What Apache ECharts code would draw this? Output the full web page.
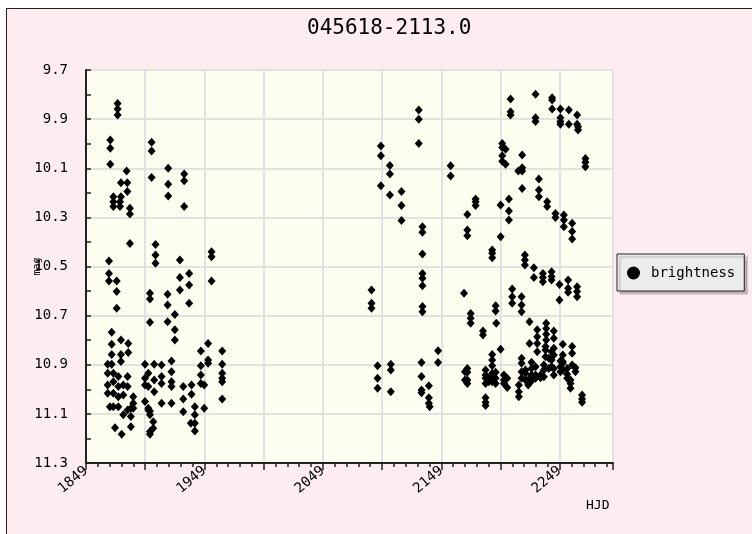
<!DOCTYPE html>
<html>
<head>
<meta charset="utf-8">
<script src="https://cdn.jsdelivr.net/npm/echarts@6/dist/echarts.min.js"></script>
<style>
html,body{margin:0;padding:0;background:#ffffff;}
#bg{position:absolute;left:6px;top:8px;width:760px;height:540px;background:#fdedf1;border-left:1px solid #222;border-top:1px solid #222;}
#chart{position:absolute;left:0;top:0;width:752px;height:534px;}
</style>
</head>
<body>
<div id="bg"></div>
<div id="chart"></div>
<script>
var titleText = '045618-2113.0';
var seriesName = 'brightness';
var xName = 'HJD';
var yName = 'mag';
var xMin = 1849, xMax = 2294, xStep = 50, xLabelStep = 100;
var yMin = 9.7, yMax = 11.3, yStep = 0.2;

var hjd = [
 1875.7,1875.7,1875.7,1869.5,1869.5,1869.5,1883.3,1878.5,1883.9,1883.9,1872.1,1878.5,1872.1,1872.1,1877.7,1877.7,
 1886.1,1886.1,1886.1,1868.4,1868.4,1868.4,1874.9,1874.9,1874.9,1870.7,1870.7,1870.7,1870.7,1878.5,1878.5,1878.5,
 1884.7,1884.7,1867.3,1867.3,1867.3,1867.3,1872.1,1872.1,1872.1,1872.1,1876.3,1876.3,1876.3,1876.3,1880.5,1880.5,
 1880.5,1884.1,1884.1,1884.1,1888.9,1888.9,1888.9,1886.9,1886.9,1886.9,1873.5,1879.1,1869.2,
 1904.4,1904.4,1904.4,1918.4,1918.4,1918.4,1931.9,1931.9,1931.9,1907.7,1907.7,1907.7,1903.0,1903.0,1903.0,
 1917.9,1917.9,1917.9,1924.0,1924.0,1924.0,1928.3,1928.3,1928.3,1936.1,1936.1,1936.1,1955.0,1955.0,1955.0,
 1952.1,1952.1,1952.1,1946.0,1946.0,1946.0,1946.0,1948.8,1948.8,1964.0,1964.0,1964.0,1964.0,1964.0,1964.0,
 1898.8,1898.8,1898.8,1898.8,1906.6,1906.6,1906.6,1912.8,1912.8,1912.8,1912.8,1901.6,1901.6,1901.6,1901.6,
 1903.0,1903.0,1903.0,1903.0,1905.8,1905.8,1921.2,1921.2,1921.2,1921.2,1921.2,1931.1,1931.1,1931.1,1938.1,1938.1,
 1940.9,1940.9,1940.9,1940.9,1937.5,
 2130.0,2130.0,2130.0,2098.0,2098.0,2098.0,2105.6,2105.6,2105.6,2115.4,2115.4,2115.4,
 2133.1,2133.1,2133.1,2133.1,2133.1,2133.1,2133.1,2133.1,2090.1,2090.1,2090.1,2095.2,2095.2,2095.2,
 2106.4,2106.4,2106.4,2132.3,2132.3,2132.3,2132.3,2138.5,2138.5,2138.5,2146.3,2146.3,2139.2,
 2207.5,2207.5,2207.5,2228.6,2228.6,2228.6,2242.6,2242.6,2242.6,2249.6,2249.6,2249.6,2249.6,2256.7,2256.7,
 2263.7,2263.7,2264.5,2264.5,2270.7,2270.7,2270.7,2156.9,2156.9,2200.5,2200.5,2200.5,2200.5,2203.3,2203.3,
 2217.3,2217.3,2217.3,2217.3,2214.0,2231.4,2231.4,2231.4,2238.4,2238.4,2245.4,2245.4,2252.5,2252.5,2252.5,
 2259.5,2259.5,2259.5,2178.0,2178.0,2178.0,2171.0,2171.0,2171.0,2206.1,2206.1,2206.1,2199.1,2199.1,
 2192.0,2192.0,2192.0,2219.6,2219.6,2219.6,2227.2,2227.2,2234.8,2234.8,2234.8,2242.1,2242.1,2242.1,
 2248.8,2248.8,2256.1,2256.1,2256.1,2263.7,2263.7,2263.7,2168.2,2173.8,2173.8,2173.8,2194.9,2194.9,2195.4,
 2208.9,2208.9,2208.9,2216.8,2216.8,2216.8,2184.2,2184.2,2199.1,2223.5,2223.5,2237.6,2237.6,2237.6,2237.6,
 2230.0,2230.0,2230.0,2230.0,2244.0,2244.0,2244.0,2244.0,2251.6,2251.6,2251.6,2259.5,2259.5,2259.5,
 2237.0,2237.0,2237.0,2242.1,2242.1,2242.1,2171.0,2171.0,2171.0,2171.0,2169.0,2169.0,
 2192.0,2192.0,2192.0,2192.0,2192.0,2192.0,2186.4,2186.4,2186.4,2186.4,2189.2,2189.2,2194.9,2194.9,2194.9,
 2201.9,2201.9,2201.9,2204.7,2204.7,2186.4,2186.4,2186.4,2216.8,2216.8,2216.8,2216.8,2220.1,2220.1,2220.1,
 2225.2,2225.2,2225.2,2225.2,2214.5,2214.5,2214.5,2222.4,2222.4,2228.6,2228.6,2228.6,2232.8,2232.8,
 2235.6,2235.6,2235.6,2239.8,2239.8,2244.0,2244.0,2249.6,2249.6,2249.6,2251.6,2251.6,2255.3,2255.3,2255.3,
 2258.1,2258.1,2258.1,2262.3,2262.3,2267.9,2267.9,2267.9
];
var mag = [
 9.836,9.859,9.883,9.985,10.019,10.084,10.111,10.159,10.159,10.195,10.216,10.216,10.236,10.256,10.236,10.256,
 10.263,10.286,10.406,10.478,10.528,10.559,10.559,10.602,10.670,10.768,10.817,10.858,10.898,10.799,10.858,10.887,
 10.813,10.850,10.898,10.935,10.982,11.016,10.935,10.969,11.016,11.071,10.948,10.989,11.030,11.071,10.982,11.023,
 11.104,10.948,10.989,11.084,11.030,11.057,11.077,11.077,11.111,11.152,11.156,11.183,11.071,
 9.994,10.030,10.138,10.100,10.165,10.213,10.123,10.151,10.256,10.410,10.453,10.487,10.609,10.632,10.727,
 10.613,10.657,10.725,10.695,10.758,10.799,10.474,10.545,10.596,10.528,10.575,10.650,10.440,10.460,10.559,
 10.813,10.881,10.894,10.844,10.904,10.942,10.976,10.982,11.077,10.844,10.898,10.935,10.955,10.969,11.039,
 10.898,10.955,10.982,11.050,10.898,10.962,11.010,10.901,10.948,10.976,11.057,10.935,10.989,11.077,11.084,
 11.088,11.104,11.183,11.172,11.132,11.159,10.885,10.928,10.969,10.989,11.057,10.989,11.039,11.091,10.982,11.020,
 11.071,11.104,11.138,11.170,11.138,
 9.863,9.900,9.999,10.009,10.049,10.171,10.089,10.123,10.209,10.195,10.252,10.313,
 10.338,10.361,10.449,10.528,10.548,10.578,10.663,10.684,10.596,10.650,10.670,10.904,10.955,10.996,
 10.898,10.921,11.010,10.891,10.948,11.003,11.014,10.985,11.034,11.057,10.843,10.891,11.071,
 9.818,9.870,9.883,9.799,9.894,9.910,9.813,9.822,9.859,9.859,9.894,9.910,9.921,9.863,9.921,
 9.883,9.921,9.931,9.944,10.060,10.076,10.094,10.090,10.132,9.999,10.016,10.049,10.071,10.023,10.084,
 10.046,10.098,10.111,10.182,10.111,10.144,10.189,10.216,10.236,10.256,10.284,10.301,10.290,10.311,10.338,
 10.324,10.358,10.388,10.225,10.236,10.252,10.288,10.351,10.375,10.225,10.274,10.311,10.250,10.379,
 10.433,10.446,10.464,10.453,10.474,10.494,10.505,10.545,10.528,10.545,10.562,10.521,10.541,10.555,
 10.573,10.636,10.555,10.589,10.605,10.582,10.602,10.623,10.609,10.691,10.711,10.731,10.660,10.681,10.731,
 10.592,10.623,10.650,10.623,10.657,10.684,10.763,10.779,10.837,10.725,10.813,10.731,10.752,10.776,10.799,
 10.758,10.786,10.813,10.847,10.763,10.792,10.833,10.860,10.817,10.860,10.887,10.826,10.853,10.901,
 10.826,10.840,10.867,10.847,10.881,10.908,10.915,10.931,10.962,10.976,10.928,10.962,
 10.858,10.881,10.904,10.935,10.949,10.969,10.921,10.942,10.955,10.976,10.955,10.969,10.931,10.955,10.976,
 10.942,10.962,10.976,10.955,10.993,11.034,11.053,11.066,10.874,10.894,10.928,10.955,10.921,10.935,10.962,
 10.890,10.915,10.942,10.966,10.982,11.010,11.030,10.962,10.982,10.908,10.942,10.955,10.942,10.953,
 10.901,10.921,10.949,10.874,10.915,10.915,10.942,10.885,10.908,10.928,10.894,10.921,10.915,10.939,10.955,
 10.962,10.976,10.996,10.912,10.928,11.023,11.039,11.053
];

var chart = echarts.init(document.getElementById('chart'), null, {renderer: 'canvas'});
var mono = 'DejaVu Sans Mono';
var points = hjd.map(function (h, i) { return [h - xMin, +(mag[i] - yMin).toFixed(4)]; });

chart.setOption({
  backgroundColor: 'transparent',
  animation: false,
  title: {
    text: titleText,
    left: 302,
    top: 13,
    textStyle: {fontFamily: mono, fontSize: 21, fontWeight: 'normal', color: '#000'}
  },
  legend: {
    data: [{name: seriesName, icon: 'circle'}],
    orient: 'vertical',
    left: 617,
    top: 254,
    padding: [12, 9, 11, 10],
    itemWidth: 13,
    itemHeight: 13,
    itemGap: 6,
    backgroundColor: '#ececec',
    borderColor: '#222',
    borderWidth: 1,
    borderRadius: 0,
    shadowColor: 'rgba(0,0,0,0.25)',
    shadowOffsetX: 3,
    shadowOffsetY: 3,
    shadowBlur: 1,
    textStyle: {fontFamily: mono, fontSize: 14, color: '#000', padding: [0, 0, 0, 6]}
  },
  grid: {
    left: 86, top: 70, right: 139, bottom: 71,
    show: true, backgroundColor: '#fefef0', borderWidth: 0
  },
  xAxis: {
    type: 'value',
    min: 0, max: xMax - xMin, interval: xStep,
    name: xName,
    nameLocation: 'end',
    nameGap: -27,
    nameMoveOverlap: false,
    nameTextStyle: {fontFamily: mono, fontSize: 13, color: '#000', align: 'left', verticalAlign: 'top', padding: [36, 0, 0, 0]},
    axisLine: {show: true, onZero: false, lineStyle: {color: '#222', width: 2}},
    axisTick: {show: true, inside: false, length: 7, lineStyle: {color: '#222', width: 1.5}},
    minorTick: {show: true, splitNumber: 5, length: 4, lineStyle: {color: '#222', width: 1.5}},
    splitLine: {show: true, lineStyle: {color: '#e2e2e2', width: 2}},
    axisLabel: {
      rotate: 40, margin: 6,
      fontFamily: mono, fontSize: 14, color: '#000',
      showMaxLabel: false,
      formatter: function (v) { return (Math.round(v) % xLabelStep === 0) ? String(Math.round(v) + xMin) : ''; }
    }
  },
  yAxis: {
    type: 'value',
    inverse: true,
    min: 0, max: +(yMax - yMin).toFixed(1), interval: yStep,
    name: yName,
    nameLocation: 'middle',
    nameRotate: 90,
    nameGap: 44,
    nameMoveOverlap: false,
    nameTextStyle: {fontFamily: mono, fontSize: 10, color: '#000'},
    axisLine: {show: true, onZero: false, lineStyle: {color: '#222', width: 2}},
    axisTick: {show: true, inside: true, length: 5, lineStyle: {color: '#222', width: 1.5}},
    minorTick: {show: true, splitNumber: 2, length: 5, lineStyle: {color: '#222', width: 1.5}},
    splitLine: {show: true, lineStyle: {color: '#e2e2e2', width: 2}},
    axisLabel: {
      margin: 18,
      fontFamily: mono, fontSize: 14, color: '#000',
      formatter: function (v) { return (v + yMin).toFixed(1); }
    }
  },
  series: [{
    name: seriesName,
    type: 'scatter',
    symbol: 'diamond',
    symbolSize: [8, 9],
    itemStyle: {color: '#000', opacity: 1},
    data: points
  }]
});
</script>
</body>
</html>
